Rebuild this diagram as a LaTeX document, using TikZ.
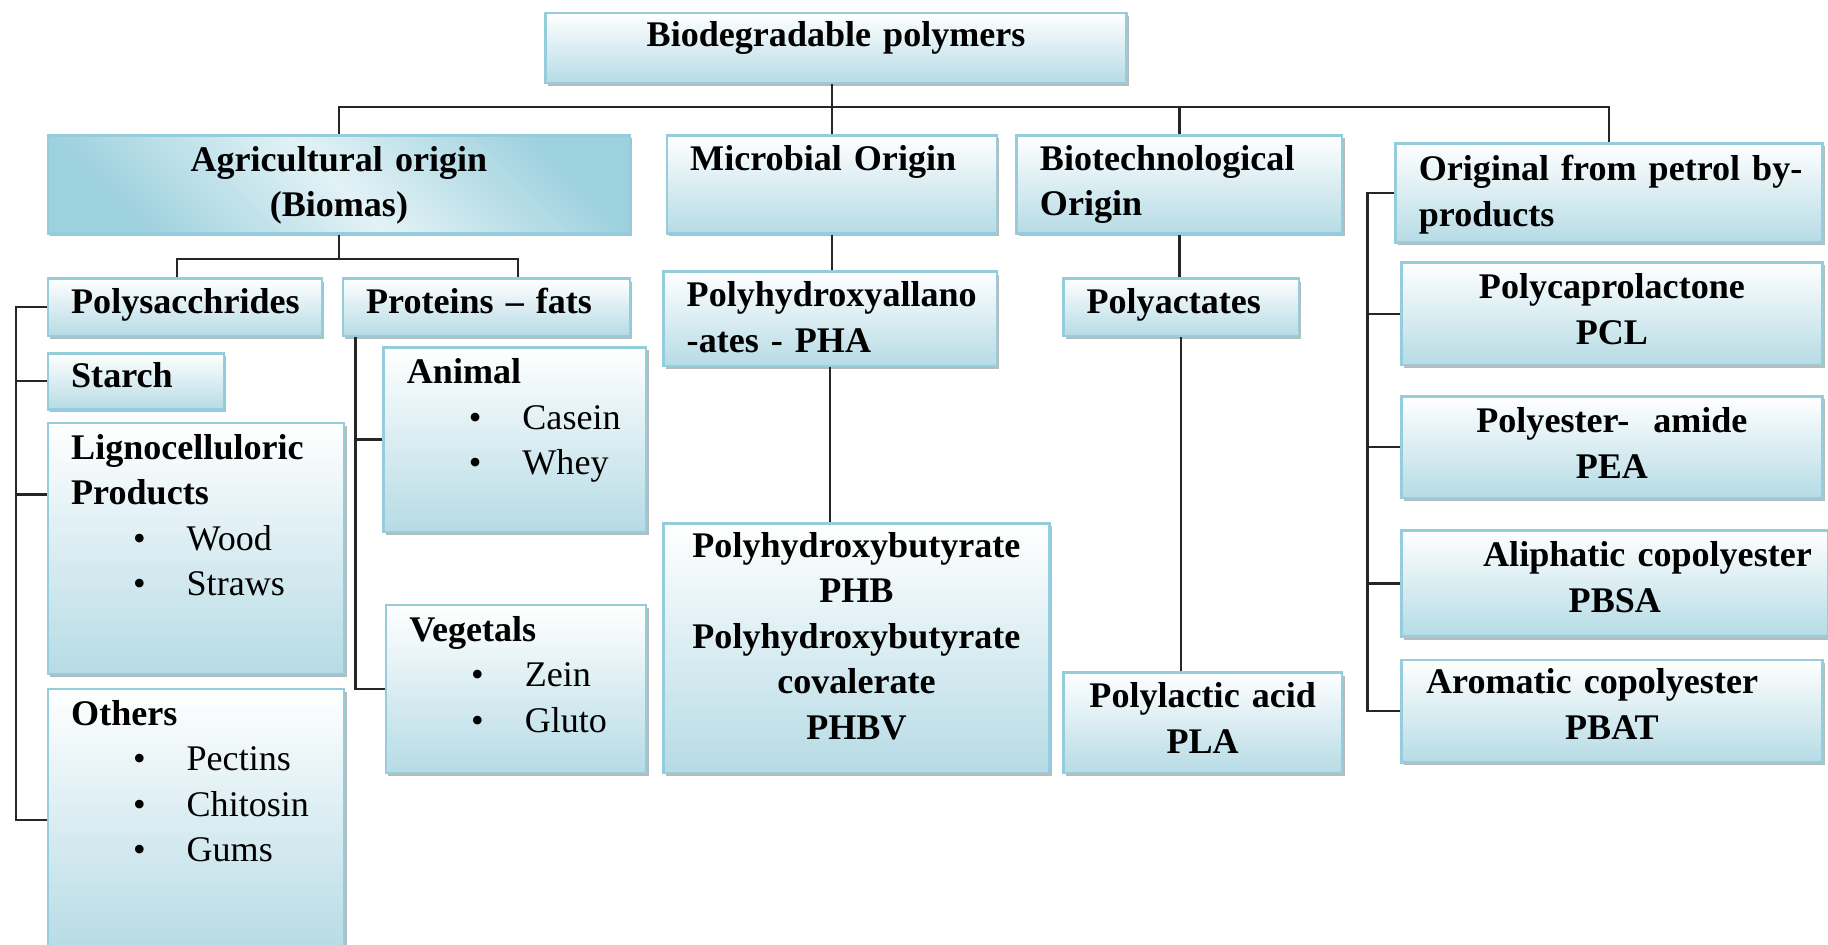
\documentclass[tikz,border=0pt]{standalone}
\usepackage{fontspec}
\setmainfont{Liberation Serif}
\usetikzlibrary{shadows}

\definecolor{boxblue}{RGB}{182,219,229}
\definecolor{boxline}{RGB}{150,205,220}
\definecolor{agridark}{RGB}{158,209,222}
\definecolor{agrilight}{RGB}{226,242,246}

\newcommand{\bitem}[1]{{\mdseries\hspace*{0.53cm}\makebox[0.46cm][l]{\textbullet}#1}}

\begin{document}
\begin{tikzpicture}[x=0.01cm, y=-0.01cm,
    box/.style={draw=boxline, line width=0.6pt, top color=white, bottom color=boxblue,
      anchor=north west, inner xsep=0.2cm, inner ysep=0pt, align=left,
      font={\fontsize{8.8}{11.1}\selectfont\bfseries\hyphenpenalty=10000},
      drop shadow={shadow xshift=0.6pt, shadow yshift=-0.7pt, fill=black!45, opacity=0.6}},
    link/.style={draw=black!85, line width=0.55pt}]

  \useasboundingbox (0,0) rectangle (1568,810);

  % Top level
  \node[box, align=center, text width=4.58cm, text height=0.29cm, text depth=0.31cm] (root) at (467,10) {Biodegradable polymers};

  \node[box, align=center, top color=agridark, bottom color=agridark, middle color=agrilight, shading angle=-45,
        text width=4.59cm, text height=0.31cm, text depth=0.53cm] (agri) at (40,115) {Agricultural origin\\(Biomas)};
  \node[box, text width=2.43cm, text height=0.30cm, text depth=0.54cm] (micro) at (571,115) {Microbial Origin};
  \node[box, text width=2.39cm, text height=0.30cm, text depth=0.54cm] (biot) at (871,115) {Biotechnological\\Origin};
  \node[box, text width=3.26cm, text height=0.32cm, text depth=0.53cm] (orig) at (1196,122) {\mbox{Original from petrol by-}\\products};

  % Agricultural origin
  \node[box, text width=1.95cm, text height=0.30cm, text depth=0.19cm] (poly) at (40,238) {Polysacchrides};
  \node[box, text width=2.06cm, text height=0.30cm, text depth=0.19cm] (prot) at (293,238) {Proteins -- fats};
  \node[box, text width=1.11cm, text height=0.29cm, text depth=0.19cm] (starch) at (40,302) {Starch};
  \node[box, text width=2.14cm, text height=0.31cm, text depth=1.84cm] (ligno) at (40,362)
    {Lignocelluloric\\Products\\\bitem{Wood}\\\bitem{Straws}};
  \node[box, text width=2.14cm, text height=0.31cm, text depth=1.94cm] (others) at (40,590)
    {Others\\\bitem{Pectins}\\\bitem{Chitosin}\\\bitem{Gums}};
  \node[box, text width=1.85cm, text height=0.31cm, text depth=1.27cm] (anim) at (328,297)
    {Animal\\\bitem{Casein}\\\bitem{Whey}};
  \node[box, text width=1.83cm, text height=0.31cm, text depth=1.13cm] (veg) at (330,518)
    {Vegetals\\\bitem{Zein}\\\bitem{Gluto}};

  % Microbial origin
  \node[box, text width=2.46cm, text height=0.30cm, text depth=0.51cm] (pha) at (568,232) {Polyhydroxyallano\\-ates - PHA};
  \node[box, align=center, text width=2.91cm, text height=0.29cm, text depth=1.85cm] (phb) at (568,448)
    {Polyhydroxybutyrate\\PHB\\Polyhydroxybutyrate\\covalerate\\PHBV};

  % Biotechnological origin
  \node[box, text width=1.62cm, text height=0.30cm, text depth=0.19cm] (polyact) at (911,238) {Polyactates};
  \node[box, align=center, text width=1.99cm, text height=0.30cm, text depth=0.56cm] (pla) at (911,576) {Polylactic acid\\PLA};

  % Petrol by-products
  \node[box, align=center, text width=3.21cm, text height=0.31cm, text depth=0.57cm] (pcl) at (1201,224) {Polycaprolactone\\PCL};
  \node[box, align=center, text width=3.21cm, text height=0.31cm, text depth=0.56cm] (pea) at (1201,339) {Polyester-~~amide\\PEA};
  \node[box, align=center, text width=3.26cm, text height=0.31cm, text depth=0.60cm] (pbsa) at (1201,454)
    {\makebox[0pt]{\hspace*{0.56cm}Aliphatic copolyester}\\PBSA};
  \node[box, align=center, text width=3.21cm, text height=0.29cm, text depth=0.59cm] (pbat) at (1201,565)
    {\makebox[0pt]{Aromatic copolyester\hspace*{0.34cm}}\\PBAT};

  % Connectors
  \coordinate (bus) at (0,92);
  \coordinate (agribus) at (0,222);
  \coordinate (lrail) at (14,0);
  \coordinate (prail) at (305,0);
  \coordinate (rrail) at (1173,0);

  \draw[link] (agri.north) |- (orig.north |- bus) -- (orig.north);
  \draw[link] (micro.north |- root.south) -- (micro.north);
  \draw[link] (biot.north |- bus) -- (biot.north);

  \draw[link] (agri.south) -- (agri.south |- agribus);
  \draw[link] ([xshift=-0.07cm]poly.north) |- ([xshift=0.27cm]prot.north |- agribus) -- ([xshift=0.27cm]prot.north);

  \draw[link] (poly.west) -| (lrail |- others.west) -- (others.west);
  \draw[link] (starch.west) -- (starch.west -| lrail);
  \draw[link] ([yshift=0.465cm]ligno.west) -- ([yshift=0.465cm]ligno.west -| lrail);

  \draw[link] (prail |- prot.south) |- (veg.west);
  \draw[link] (anim.west) -- (anim.west -| prail);

  \draw[link] (micro.south) -- (micro.south |- pha.north);
  \draw[link] (pha.south) -- (pha.south |- phb.north);

  \draw[link] (biot.south) -- (biot.south |- polyact.north);
  \draw[link] (polyact.south) -- (polyact.south |- pla.north);

  \draw[link] (orig.west) -| (rrail |- pbat.west) -- (pbat.west);
  \draw[link] (pcl.west) -- (pcl.west -| rrail);
  \draw[link] (pea.west) -- (pea.west -| rrail);
  \draw[link] (pbsa.west) -- (pbsa.west -| rrail);
\end{tikzpicture}
\end{document}
